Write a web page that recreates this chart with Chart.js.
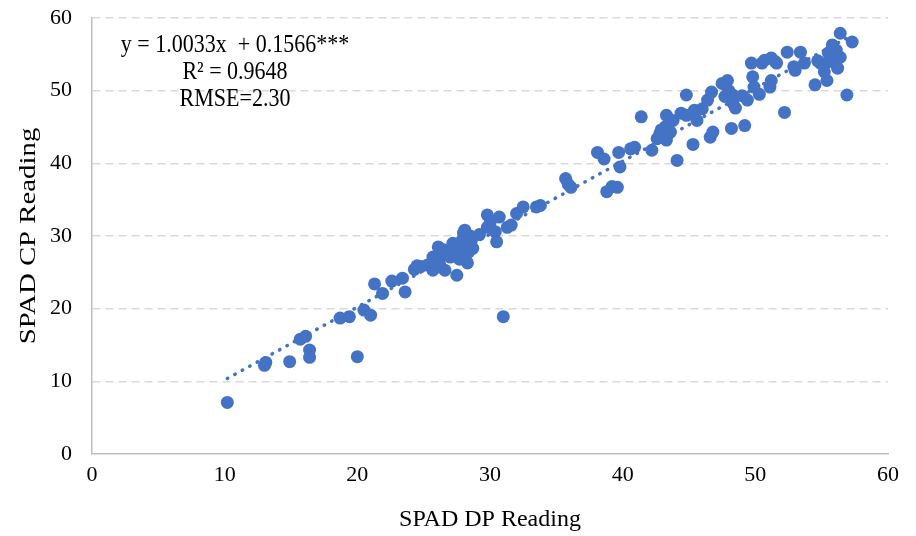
<!DOCTYPE html>
<html>
<head>
<meta charset="utf-8">
<script src="https://cdn.jsdelivr.net/npm/chart.js@4.4.1/dist/chart.umd.min.js"></script>
<style>
  html, body { margin: 0; padding: 0; background: #ffffff; }
  #wrap { width: 916px; height: 536px; }
</style>
</head>
<body>
<div id="wrap"><canvas id="myChart" width="916" height="536"></canvas></div>
<script>
// Données (SPAD DP en x, SPAD CP en y)
const dpReading = [
  10.2, 13.0, 13.1, 14.9, 15.7, 16.1, 16.4, 16.4, 18.7, 19.4,
  20.0, 20.5, 21.0, 21.3, 21.9, 22.6, 23.4, 23.6, 24.3, 24.5,
  24.8, 25.7, 25.7, 25.9, 26.1, 26.3, 26.5, 26.6, 26.9, 27.0,
  27.2, 27.4, 27.5, 27.6, 27.9, 27.9, 28.0, 28.1, 28.3, 28.4,
  28.5, 28.6, 28.7, 29.8, 29.8, 30.0, 30.4, 30.5, 30.7, 31.0,
  31.3, 31.6, 32.0, 32.5, 33.5, 35.7, 35.9, 36.1, 38.1, 38.6,
  38.8, 39.2, 39.6, 39.7, 39.8, 40.9, 41.4, 42.2, 42.8, 42.9,
  43.2, 43.3, 43.3, 43.8, 43.6, 44.1, 44.4, 44.8, 44.8, 45.3,
  45.4, 45.6, 46.0, 46.4, 46.6, 46.8, 46.7, 47.5, 47.9, 48.0,
  48.3, 48.2, 48.3, 48.5, 49.0, 49.2, 49.4, 49.8, 49.7, 49.9,
  50.3, 50.5, 50.7, 51.1, 51.2, 51.6, 51.2, 51.5, 52.4, 52.2,
  52.9, 53.0, 53.4, 53.7, 54.5, 54.9, 55.2, 55.4, 55.5, 55.8,
  56.1, 56.4, 56.2, 56.4, 55.6, 55.9, 56.9, 57.3, 54.7, 48.0,
  47.7, 26.2, 27.7, 25.3, 29.2, 33.8, 40.6, 42.6
];
const cpReading = [
  7.1, 12.2, 12.6, 12.7, 15.8, 16.2, 14.3, 13.3, 18.7, 18.9,
  13.4, 19.8, 19.1, 23.4, 22.1, 23.8, 24.2, 22.3, 25.4, 25.9,
  25.8, 25.3, 27.1, 26.7, 28.5, 27.5, 28.1, 25.3, 27.8, 27.1,
  29.0, 27.6, 24.6, 28.9, 28.1, 29.4, 30.4, 30.8, 26.3, 27.8,
  30.0, 29.4, 28.3, 32.9, 31.2, 31.8, 30.6, 29.2, 32.6, 18.9,
  31.2, 31.5, 33.1, 34.0, 34.0, 37.9, 37.1, 36.7, 41.5, 40.6,
  36.1, 36.8, 36.7, 41.5, 39.5, 42.2, 46.4, 41.8, 44.1, 44.6,
  45.0, 46.6, 43.2, 45.9, 44.3, 40.4, 46.9, 46.6, 49.4, 42.6,
  47.3, 45.9, 47.5, 48.7, 43.6, 44.3, 49.8, 51.0, 51.4, 50.0,
  49.4, 44.8, 48.3, 47.6, 49.3, 45.2, 48.7, 51.9, 53.8, 50.5,
  49.5, 53.8, 54.2, 50.5, 54.5, 53.8, 51.4, 54.0, 55.3, 47.0,
  53.3, 52.8, 55.3, 53.8, 50.8, 53.8, 52.6, 51.4, 55.2, 56.3,
  55.6, 57.9, 53.1, 54.6, 54.0, 55.0, 49.4, 56.7, 54.1, 49.8,
  49.2, 26.1, 26.8, 26.0, 30.2, 34.2, 42.0, 43.4
];

// Droite de régression (Excel)
const trendSlope = 1.0033;
const trendIntercept = 0.1566;
const trendRange = [10.2, 57.3];

const annotationLines = ['y = 1.0033x  + 0.1566***', 'R\u00B2 = 0.9648', 'RMSE=2.30'];
const xTitle = 'SPAD DP Reading';
const yTitle = 'SPAD CP Reading';

const SERIF = "'Liberation Serif', 'Times New Roman', serif";
const BLUE = '#4472C4';

const points = dpReading.map((x, i) => ({ x: x, y: cpReading[i] }));
const trendPoints = trendRange.map(x => ({ x: x, y: trendSlope * x + trendIntercept }));

// Texte de l'équation + titre Y (légèrement étiré comme sur l'original)
const textPlugin = {
    id: 'textPlugin',
    afterDraw(chart) {
        const ctx = chart.ctx;
        ctx.save();
        ctx.fillStyle = '#000000';
        ctx.textAlign = 'center';
        ctx.textBaseline = 'middle';
        ctx.font = '22px ' + SERIF;
        const cx = 235;
        annotationLines.forEach((line, i) => {
            ctx.save();
            ctx.translate(cx, 45 + i * 27);
            ctx.scale(1, 1.15);
            ctx.fillText(line, 0, 0);
            ctx.restore();
        });

        // titre axe Y
        ctx.save();
        ctx.translate(29, 236);
        ctx.rotate(-Math.PI / 2);
        ctx.scale(1.2, 1);
        ctx.font = '24px ' + SERIF;
        ctx.fillText(yTitle, 0, 0);
        ctx.restore();
        ctx.restore();
    }
};

const ctx = document.getElementById('myChart');

new Chart(ctx, {
    type: 'scatter',
    data: {
        datasets: [
            {
                label: 'SPAD',
                data: points,
                backgroundColor: BLUE,
                borderColor: BLUE,
                borderWidth: 0,
                pointRadius: 6.5,
                order: 2
            },
            {
                type: 'line',
                label: 'Trend',
                data: trendPoints,
                borderColor: BLUE,
                borderWidth: 3.5,
                borderDash: [0.5, 8],
                borderCapStyle: 'round',
                pointRadius: 0,
                fill: false,
                order: 1
            }
        ]
    },
    options: {
        responsive: false,
        animation: false,
        layout: { padding: { top: 0, right: 28, left: 0, bottom: 0 } },
        plugins: {
            legend: { display: false },
            tooltip: { enabled: false }
        },
        scales: {
            x: {
                type: 'linear',
                min: 0,
                max: 60,
                ticks: {
                    stepSize: 10,
                    color: '#000000',
                    padding: 8,
                    font: { family: SERIF, size: 22 }
                },
                grid: { display: false, drawTicks: false },
                border: { display: true, color: '#bfbfbf', width: 1.5 },
                title: {
                    display: true,
                    text: xTitle,
                    color: '#000000',
                    font: { family: SERIF, size: 24 },
                    padding: { top: 0, bottom: 2 }
                },
                afterFit(scale) { scale.height = 82; }
            },
            y: {
                type: 'linear',
                min: 0,
                max: 60,
                ticks: {
                    stepSize: 10,
                    color: '#000000',
                    padding: 20,
                    font: { family: SERIF, size: 22 }
                },
                grid: {
                    drawTicks: false,
                    color: (c) => c.tick && c.tick.value === 0 ? 'rgba(0,0,0,0)' : '#d9d9d9',
                    lineWidth: 1.5
                },
                border: { display: true, color: '#bfbfbf', width: 1.5, dash: [8, 5] },
                afterFit(scale) {
                    scale.width = 92;
                    scale.paddingTop = 18;
                    scale.paddingBottom = 0;
                }
            }
        }
    },
    plugins: [textPlugin]
});
</script>
</body>
</html>
